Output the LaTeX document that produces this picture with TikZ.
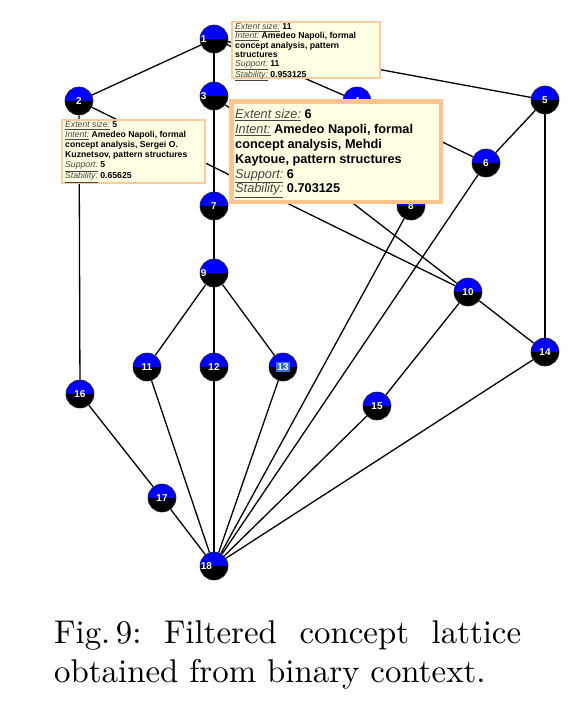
\documentclass[tikz,border=0pt]{standalone}
\usepackage{fontspec}
\usepackage{tikz}
\usetikzlibrary{backgrounds}
\newfontfamily\tipfont{Liberation Sans}
\newfontfamily\capfont{lmroman10-regular}[Extension=.otf]
\definecolor{latticeblue}{HTML}{0000FF}
\definecolor{selectblue}{HTML}{2F6FE0}
\definecolor{tipfill}{HTML}{FFFFE3}
\definecolor{tipborder}{HTML}{FFCC99}
\definecolor{tipborderhot}{HTML}{FFC48C}
\definecolor{tipgray}{HTML}{444444}
\definecolor{nodeedge}{HTML}{222222}
\newcommand{\tiplab}[1]{{\color{tipgray}\underline{\textit{#1}}}}
\newcommand{\hilite}[1]{{\setlength{\fboxsep}{1bp}\colorbox{selectblue}{#1}}}

\begin{document}
\begin{tikzpicture}[x=1bp, y=-1bp,
    numtext/.style={text=white, font=\tipfont\bfseries\fontsize{10}{12}\selectfont},
    conceptnode/.style={circle, minimum size=28bp, inner sep=0pt, draw=nodeedge, line width=0.6bp, numtext,
        path picture={
            \fill[latticeblue] (path picture bounding box.north west) rectangle (path picture bounding box.east);
            \fill[black] (path picture bounding box.west) rectangle (path picture bounding box.south east);}},
    leftnum/.style={label={[numtext, anchor=west, inner sep=0pt, xshift=1bp]west:#1}},
    latticeedge/.style={black, line width=1.3bp},
    tipbox/.style={draw=tipborder, fill=tipfill, line width=2bp, inner sep=0pt, anchor=north west},
    tiptext/.style={anchor=north west, inner sep=0pt, align=left, text=black},
    captext/.style={anchor=base west, inner sep=0pt, font=\capfont\fontsize{33}{40}\selectfont\frenchspacing}]

    % Lattice nodes
    \node[conceptnode, leftnum=1] (c1) at (214,39) {};
    \node[conceptnode] (c2) at (79,101) {2};
    \node[conceptnode, leftnum=3] (c3) at (214,96) {};
    \node[conceptnode] (c4) at (357,101) {4};
    \node[conceptnode] (c5) at (545,100) {5};
    \node[conceptnode] (c6) at (486,163) {6};
    \node[conceptnode] (c7) at (214,206) {7};
    \node[conceptnode] (c8) at (411,206) {8};
    \node[conceptnode, leftnum=9] (c9) at (214,273) {};
    \node[conceptnode] (c10) at (468,292) {10};
    \node[conceptnode] (c11) at (147,367) {11};
    \node[conceptnode] (c12) at (214,367) {12};
    \node[conceptnode] (c13) at (283,367) {\hilite{13}};
    \node[conceptnode] (c14) at (545,352) {14};
    \node[conceptnode] (c15) at (377,406) {15};
    \node[conceptnode] (c16) at (80,394) {16};
    \node[conceptnode] (c17) at (162,498) {17};
    \node[conceptnode, leftnum=18] (c18) at (214,566) {};

    % Edges (behind the nodes)
    \begin{scope}[on background layer]
        \fill[white] (0,0) rectangle (575,708);
        \draw[latticeedge] (c1) -- (c2);
        \draw[latticeedge] (c1) -- (c3);
        \draw[latticeedge] (c1) -- (c4);
        \draw[latticeedge] (c1) -- (c5);
        \draw[latticeedge] (c2) -- (c10);
        \draw[latticeedge] (c2) -- (c16);
        \draw[latticeedge] (c3) -- (c7);
        \draw[latticeedge] (c3) -- (c10);
        \draw[latticeedge] (c4) -- (c6);
        \draw[latticeedge] (c4) -- (c8);
        \draw[latticeedge] (c5) -- (c6);
        \draw[latticeedge] (c5) -- (c14);
        \draw[latticeedge] (c6) -- (c18);
        \draw[latticeedge] (c7) -- (c9);
        \draw[latticeedge] (c8) -- (c18);
        \draw[latticeedge] (c9) -- (c11);
        \draw[latticeedge] (c9) -- (c12);
        \draw[latticeedge] (c9) -- (c13);
        \draw[latticeedge] (c10) -- (c14);
        \draw[latticeedge] (c10) -- (c15);
        \draw[latticeedge] (c11) -- (c18);
        \draw[latticeedge] (c12) -- (c18);
        \draw[latticeedge] (c13) -- (c18);
        \draw[latticeedge] (c14) -- (c18);
        \draw[latticeedge] (c15) -- (c18);
        \draw[latticeedge] (c16) -- (c17);
        \draw[latticeedge] (c17) -- (c18);
    \end{scope}

    % Tooltip of concept 1
    \node[tipbox, minimum width=148bp, minimum height=56bp] (tipA) at (231,21) {};
    \node[tiptext, font=\tipfont\fontsize{8.7}{9.2}\selectfont] (tipAtext) at (235,23.2)
        {\tiplab{Extent size:} \textbf{11}\\
         \tiplab{Intent:} \textbf{Amedeo Napoli, formal}\\
         \textbf{concept analysis, pattern}\\
         \textbf{structures}\\
         \tiplab{Support:} \textbf{11}\\
         \tiplab{Stability:} \textbf{0.953125}};

    % Tooltip of concept 2
    \node[tipbox, minimum width=143bp, minimum height=63bp] (tipB) at (61,119) {};
    \node[tiptext, font=\tipfont\fontsize{8.7}{10}\selectfont] (tipBtext) at (65,121.2)
        {\tiplab{Extent size:} \textbf{5}\\
         \tiplab{Intent:} \textbf{Amedeo Napoli, formal}\\
         \textbf{concept analysis, Sergei O.}\\
         \textbf{Kuznetsov, pattern structures}\\
         \tiplab{Support:} \textbf{5}\\
         \tiplab{Stability:} \textbf{0.65625}};

    % Tooltip under the pointer (larger)
    \node[tipbox, draw=tipborderhot, line width=4.5bp, minimum width=209.5bp, minimum height=100.5bp] (tipC) at (229.25,99.25) {};
    \node[tiptext, font=\tipfont\fontsize{12.8}{15}\selectfont] (tipCtext) at (235,108.8)
        {\tiplab{Extent size:} \textbf{6}\\
         \tiplab{Intent:} \textbf{Amedeo Napoli, formal}\\
         \textbf{concept analysis, Mehdi}\\
         \textbf{Kaytoue, pattern structures}\\
         \tiplab{Support:} \textbf{6}\\
         \tiplab{Stability:} \textbf{0.703125}};

    % Caption
    \node[captext] (cap1) at (54,643) {\makebox[467bp][s]{Fig.\,9: Filtered concept lattice}};
    \node[captext] (cap2) at (54,682) {obtained from binary context.};
\end{tikzpicture}
\end{document}
